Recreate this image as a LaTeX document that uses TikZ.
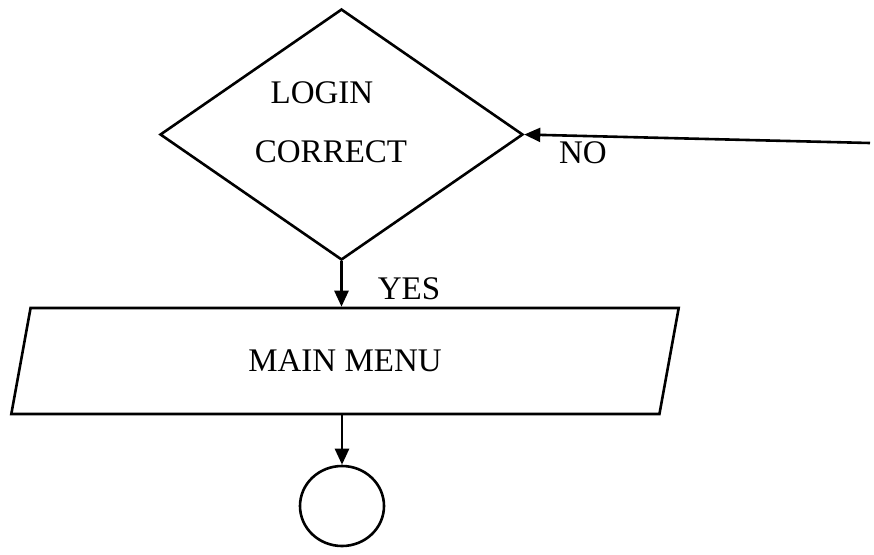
\documentclass[tikz,border=0pt]{standalone}
\usepackage{fontspec}
\setmainfont{Liberation Serif}
\usetikzlibrary{shapes.geometric, arrows.meta}

\begin{document}
\begin{tikzpicture}[x = 0.5pt, y = -0.5pt, line width = 1.3pt,
        every node/.style = {font = \fontsize{16.5}{20}\selectfont},
        flowarrow/.style = {-{Triangle[length = 8pt, width = 7pt]}}]

        % Page frame, pixel units of the reference.
        \useasboundingbox (0, 0) rectangle (874, 554);

        % The decision.
        \node[draw, diamond, minimum width = 363pt*0.5, minimum height = 251pt*0.5,
            inner sep = 0pt] (login) at (341.5, 134.5) {};
        \node (logintext) at (322, 93) {LOGIN};
        \node (correcttext) at (331, 152) {CORRECT};

        % The menu, a parallelogram.
        \node[draw, trapezium, trapezium left angle = 75, trapezium right angle = 105,
            trapezium stretches = true, minimum width = 668pt*0.5,
            minimum height = 106pt*0.5, inner sep = 0pt] (menu) at (345, 361) {MAIN MENU};

        % The end point.
        \node[draw, ellipse, minimum width = 84pt*0.5, minimum height = 80pt*0.5,
            inner sep = 0pt] (stop) at (342, 506) {};

        % Loose end of the NO line.
        \coordinate (back) at (870, 143);

        % Connectors.
        \draw[flowarrow] (back) -- (login.east);
        \draw[flowarrow] (login.south) -- (login.south |- menu.north);
        \draw[flowarrow] (menu.south -| stop.north) -- (stop.north);

        % Labels.
        \node (no) at (583, 153) {NO};
        \node (yes) at (409, 289) {YES};
    \end{tikzpicture}
\end{document}
